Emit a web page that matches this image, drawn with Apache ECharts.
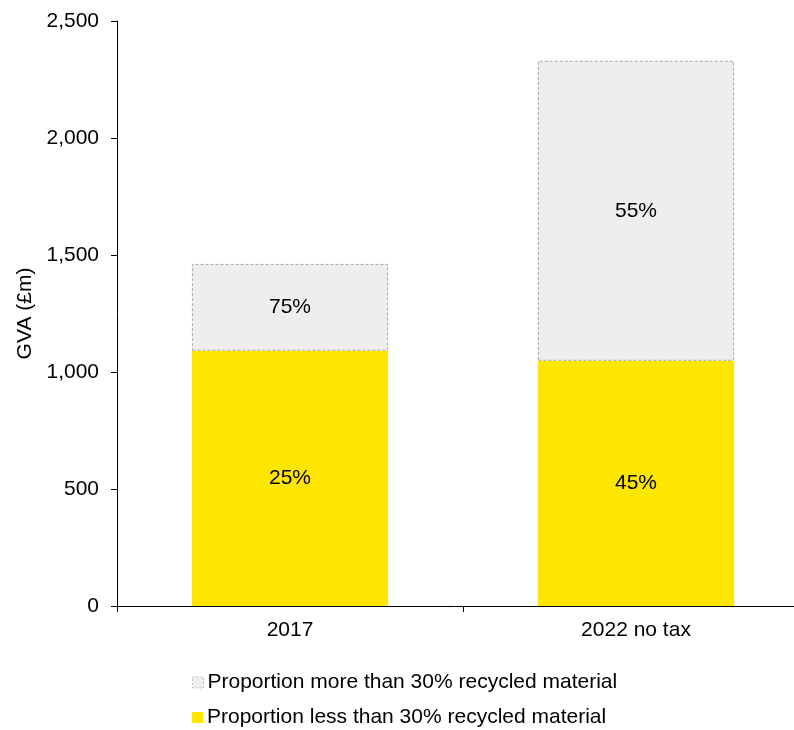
<!DOCTYPE html>
<html><head><meta charset="utf-8">
<script src="https://cdn.jsdelivr.net/npm/echarts@6/dist/echarts.min.js"></script>
<style>html,body{margin:0;padding:0;background:#fff}#c{width:794px;height:730px}</style>
</head><body><div id="c"></div>
<script>
var categories = ['2017', '2022 no tax'];
var lessValues = [1091, 1048];
var moreValues = [371, 1282];
var lessLabels = ['25%', '45%'];
var moreLabels = ['75%', '55%'];
var yTicks = {min: 0, max: 2500, interval: 500};
var seriesNames = ['Proportion less than 30% recycled material', 'Proportion more than 30% recycled material'];

var font = 'Liberation Sans, Arial, sans-serif';
var fs = 21;
var chart = echarts.init(document.getElementById('c'), null, {renderer: 'canvas'});
var legendBase = {
  orient: 'horizontal', left: 192, padding: 0,
  itemWidth: 11, itemHeight: 11, itemGap: 10, icon: 'rect',
  textStyle: {color: '#000', fontSize: fs, fontFamily: font, padding: [0, 0, 0, -1]}
};
chart.setOption({
  animation: false,
  textStyle: {fontFamily: font},
  grid: {left: 117, right: -15, top: 21, bottom: 124, outerBoundsMode: 'none', containLabel: false},
  xAxis: {
    type: 'category', data: categories,
    axisLine: {lineStyle: {color: '#000', width: 1}},
    axisTick: {show: true, alignWithLabel: false, length: 6, lineStyle: {color: '#000'}},
    axisLabel: {color: '#000', fontSize: fs, fontFamily: font, margin: 14}
  },
  yAxis: {
    type: 'value', min: yTicks.min, max: yTicks.max, interval: yTicks.interval,
    name: 'GVA (£m)', nameLocation: 'middle', nameGap: 71, nameRotate: 90,
    nameTextStyle: {color: '#000', fontSize: fs, fontFamily: font},
    axisLine: {show: true, lineStyle: {color: '#000', width: 1}},
    axisTick: {show: true, length: 6, lineStyle: {color: '#000'}},
    splitLine: {show: false},
    axisLabel: {color: '#000', fontSize: fs, fontFamily: font, margin: 18,
      formatter: function (v) { return v.toLocaleString('en-US'); }}
  },
  legend: [
    Object.assign({}, legendBase, {top: 672, data: [{name: seriesNames[1],
      itemStyle: {color: '#EEEEEE', borderColor: '#BDBDBD', borderWidth: 1, borderType: [2, 2]}}]}),
    Object.assign({}, legendBase, {top: 707, data: [seriesNames[0]]})
  ],
  series: [
    {
      name: seriesNames[0], type: 'bar', stack: 'a',
      barWidth: '56.7%',
      itemStyle: {color: '#FFE600'},
      label: {show: true, position: 'inside', color: '#000', fontSize: fs, fontFamily: font,
        formatter: function (p) { return lessLabels[p.dataIndex]; }},
      data: lessValues
    },
    {
      name: seriesNames[1], type: 'bar', stack: 'a',
      barWidth: '56.7%',
      itemStyle: {color: '#EEEEEE', borderColor: '#A6A6A6', borderWidth: 1, borderType: [3, 2]},
      label: {show: true, position: 'inside', color: '#000', fontSize: fs, fontFamily: font,
        formatter: function (p) { return moreLabels[p.dataIndex]; }},
      data: moreValues
    }
  ]
});
</script></body></html>
